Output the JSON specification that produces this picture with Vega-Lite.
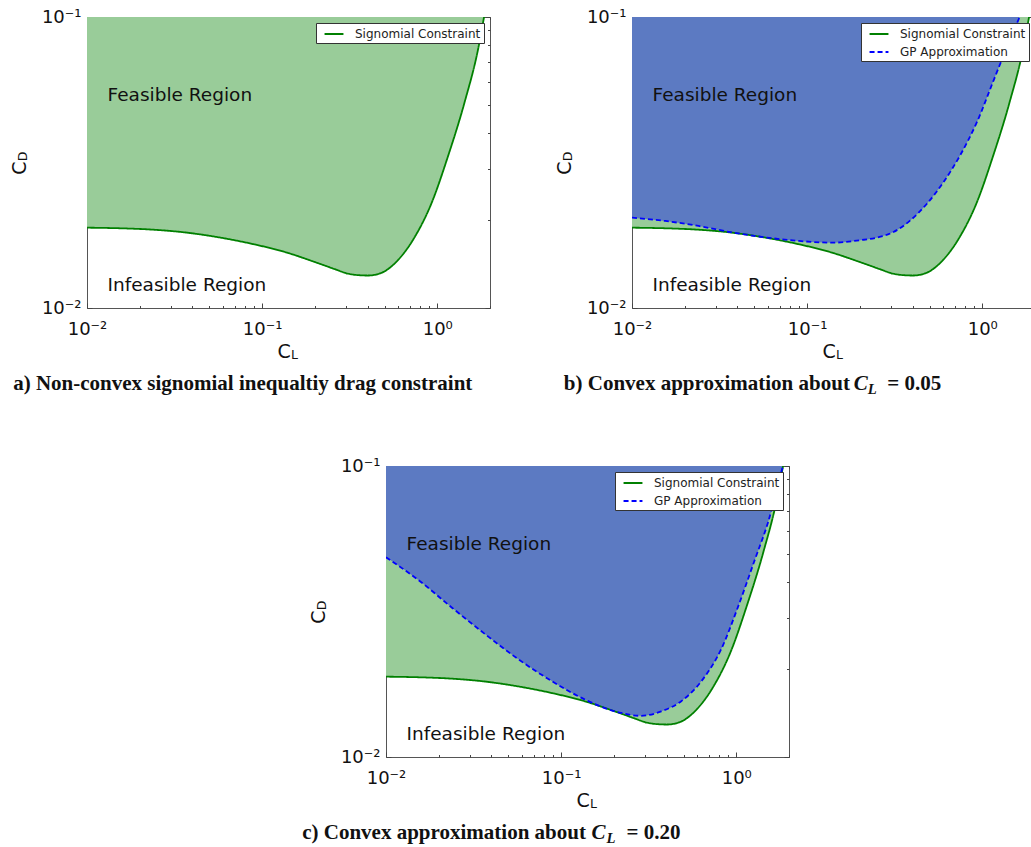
{
  "$schema": "https://vega.github.io/schema/vega-lite/v6.json",
  "padding": {"left": 9, "top": 7, "right": 0, "bottom": 0},
  "datasets": {
    "sig": [
      {"CL": 0.01, "CD": 0.01888, "series": "Signomial Constraint"},
      {"CL": 0.0155, "CD": 0.01879, "series": "Signomial Constraint"},
      {"CL": 0.024, "CD": 0.01858, "series": "Signomial Constraint"},
      {"CL": 0.0373, "CD": 0.01815, "series": "Signomial Constraint"},
      {"CL": 0.0578, "CD": 0.01745, "series": "Signomial Constraint"},
      {"CL": 0.0897, "CD": 0.01656, "series": "Signomial Constraint"},
      {"CL": 0.139, "CD": 0.01549, "series": "Signomial Constraint"},
      {"CL": 0.199, "CD": 0.0144, "series": "Signomial Constraint"},
      {"CL": 0.26, "CD": 0.0136, "series": "Signomial Constraint"},
      {"CL": 0.309, "CD": 0.01312, "series": "Signomial Constraint"},
      {"CL": 0.36, "CD": 0.01296, "series": "Signomial Constraint"},
      {"CL": 0.402, "CD": 0.01293, "series": "Signomial Constraint"},
      {"CL": 0.479, "CD": 0.0132, "series": "Signomial Constraint"},
      {"CL": 0.596, "CD": 0.0146, "series": "Signomial Constraint"},
      {"CL": 0.742, "CD": 0.0175, "series": "Signomial Constraint"},
      {"CL": 0.924, "CD": 0.0228, "series": "Signomial Constraint"},
      {"CL": 1.151, "CD": 0.0332, "series": "Signomial Constraint"},
      {"CL": 1.433, "CD": 0.051, "series": "Signomial Constraint"},
      {"CL": 1.71, "CD": 0.0775, "series": "Signomial Constraint"},
      {"CL": 1.85, "CD": 0.1, "series": "Signomial Constraint"},
      {"CL": 2.0, "CD": 0.128, "series": "Signomial Constraint"}
    ],
    "gp05": [
      {"CL": 0.01, "CD": 0.02043, "series": "GP Approximation"},
      {"CL": 0.0155, "CD": 0.01991, "series": "GP Approximation"},
      {"CL": 0.024, "CD": 0.01914, "series": "GP Approximation"},
      {"CL": 0.0373, "CD": 0.01818, "series": "GP Approximation"},
      {"CL": 0.0578, "CD": 0.01748, "series": "GP Approximation"},
      {"CL": 0.0897, "CD": 0.017, "series": "GP Approximation"},
      {"CL": 0.139, "CD": 0.01677, "series": "GP Approximation"},
      {"CL": 0.201, "CD": 0.0171, "series": "GP Approximation"},
      {"CL": 0.25, "CD": 0.01745, "series": "GP Approximation"},
      {"CL": 0.311, "CD": 0.01824, "series": "GP Approximation"},
      {"CL": 0.388, "CD": 0.02, "series": "GP Approximation"},
      {"CL": 0.483, "CD": 0.02282, "series": "GP Approximation"},
      {"CL": 0.601, "CD": 0.0271, "series": "GP Approximation"},
      {"CL": 0.748, "CD": 0.0335, "series": "GP Approximation"},
      {"CL": 0.933, "CD": 0.04357, "series": "GP Approximation"},
      {"CL": 1.161, "CD": 0.0606, "series": "GP Approximation"},
      {"CL": 1.325, "CD": 0.0739, "series": "GP Approximation"},
      {"CL": 1.633, "CD": 0.1, "series": "GP Approximation"},
      {"CL": 2.0, "CD": 0.138, "series": "GP Approximation"}
    ],
    "gp20": [
      {"CL": 0.01, "CD": 0.04855, "series": "GP Approximation"},
      {"CL": 0.0155, "CD": 0.04034, "series": "GP Approximation"},
      {"CL": 0.024, "CD": 0.03246, "series": "GP Approximation"},
      {"CL": 0.0373, "CD": 0.02627, "series": "GP Approximation"},
      {"CL": 0.0578, "CD": 0.02154, "series": "GP Approximation"},
      {"CL": 0.0897, "CD": 0.01814, "series": "GP Approximation"},
      {"CL": 0.139, "CD": 0.01568, "series": "GP Approximation"},
      {"CL": 0.215, "CD": 0.01422, "series": "GP Approximation"},
      {"CL": 0.286, "CD": 0.01385, "series": "GP Approximation"},
      {"CL": 0.373, "CD": 0.01435, "series": "GP Approximation"},
      {"CL": 0.485, "CD": 0.01555, "series": "GP Approximation"},
      {"CL": 0.631, "CD": 0.0182, "series": "GP Approximation"},
      {"CL": 0.821, "CD": 0.0235, "series": "GP Approximation"},
      {"CL": 1.023, "CD": 0.0328, "series": "GP Approximation"},
      {"CL": 1.274, "CD": 0.0475, "series": "GP Approximation"},
      {"CL": 1.518, "CD": 0.064, "series": "GP Approximation"},
      {"CL": 1.85, "CD": 0.1, "series": "GP Approximation"},
      {"CL": 2.0, "CD": 0.115, "series": "GP Approximation"}
    ],
    "labels": [
      {"CL": 0.0131, "CD": 0.0514, "text": "Feasible Region"},
      {"CL": 0.0131, "CD": 0.01144, "text": "Infeasible Region"}
    ]
  },
  "resolve": {"scale": {"color": "independent", "strokeDash": "independent"}},
  "vconcat": [
    {
      "spacing": 63,
      "resolve": {"scale": {"color": "independent", "strokeDash": "independent"}},
      "hconcat": [
        {
          "width": 403, "height": 291,
          "view": {"stroke": "#555", "strokeWidth": 1},
          "resolve": {"axis": {"x": "independent", "y": "independent"}},
          "layer": [
            {
              "data": {"name": "sig"},
              "mark": {"type": "area", "color": "#99CC99", "opacity": 1, "interpolate": "monotone", "clip": true},
              "encoding": {
                "x": {"field": "CL", "type": "quantitative", "scale": {"type": "log", "domain": [0.01, 2], "nice": false},
                  "axis": {"orient": "bottom", "values": [0.01,0.02,0.03,0.04,0.05,0.06,0.07,0.08,0.09,0.1,0.2,0.3,0.4,0.5,0.6,0.7,0.8,0.9,1,2],
                    "labelExpr": "datum.value == 0.01 ? '10⁻²' : datum.value == 0.1 ? '10⁻¹' : datum.value == 1 ? '10⁰' : ''",
                    "tickSize": {"condition": {"test": "datum.value == 0.01 || datum.value == 0.1 || datum.value == 1", "value": -5}, "value": -2.5},
                    "labelPadding": 17, "title": "C", "titleFontSize": 19, "titleX": 190, "titleY": 49, "titleAlign": "left", "titleBaseline": "alphabetic"}},
                "y": {"field": "CD", "type": "quantitative", "scale": {"type": "log", "domain": [0.01, 0.1], "nice": false},
                  "axis": {"orient": "left", "values": [0.01,0.02,0.03,0.04,0.05,0.06,0.07,0.08,0.09,0.1],
                    "labelExpr": "datum.value == 0.01 ? '10⁻²' : datum.value == 0.1 ? '10⁻¹' : ''",
                    "tickSize": {"condition": {"test": "datum.value == 0.01 || datum.value == 0.1", "value": -5}, "value": -2.5},
                    "labelPadding": 11, "title": "C", "titleFontSize": 19, "titleAngle": -90, "titleX": -62, "titleY": 150.5, "titleAlign": "center", "titleBaseline": "alphabetic"}},
                "y2": {"datum": 0.1}
              }
            },
            {
              "data": {"name": "sig"},
              "mark": {"type": "area", "color": "#99CC99", "opacity": 1, "interpolate": "monotone", "clip": true},
              "encoding": {
                "x": {"field": "CL", "type": "quantitative", "scale": {"type": "log", "domain": [0.01, 2], "nice": false},
                  "axis": {"orient": "bottom", "labels": false, "ticks": false, "title": "a) Non-convex signomial inequaltiy drag constraint", "titleFont": "Liberation Serif", "titleFontSize": 21, "titleFontWeight": "bold", "titleX": -74.3, "titleY": 81, "titleAlign": "left", "titleBaseline": "alphabetic"}},
                "y": {"field": "CD", "type": "quantitative", "scale": {"type": "log", "domain": [0.01, 0.1], "nice": false}, "axis": null},
                "y2": {"datum": 0.1}
              }
            },
            {
              "data": {"name": "sig"},
              "mark": {"type": "line", "interpolate": "monotone", "clip": true, "strokeWidth": 1.8},
              "encoding": {
                "x": {"field": "CL", "type": "quantitative", "scale": {"type": "log", "domain": [0.01, 2], "nice": false},
                  "axis": {"orient": "top", "values": [0.01,0.02,0.03,0.04,0.05,0.06,0.07,0.08,0.09,0.1,0.2,0.3,0.4,0.5,0.6,0.7,0.8,0.9,1,2], "labels": false, "title": null,
                    "tickSize": {"condition": {"test": "datum.value == 0.01 || datum.value == 0.1 || datum.value == 1", "value": -5}, "value": -2.5}}},
                "y": {"field": "CD", "type": "quantitative", "scale": {"type": "log", "domain": [0.01, 0.1], "nice": false},
                  "axis": {"orient": "right", "values": [0.01,0.02,0.03,0.04,0.05,0.06,0.07,0.08,0.09,0.1], "labels": false, "title": null,
                    "tickSize": {"condition": {"test": "datum.value == 0.01 || datum.value == 0.1", "value": -5}, "value": -2.5}}},
                "color": {"field": "series", "type": "nominal", "scale": {"domain": ["Signomial Constraint"], "range": ["#008000"]}, "legend": {"title": null, "orient": "top-right"}},
                "strokeDash": {"field": "series", "type": "nominal", "scale": {"domain": ["Signomial Constraint"], "range": [[1, 0]]}, "legend": {"title": null, "orient": "top-right"}}
              }
            },
            {
              "data": {"name": "labels"},
              "mark": {"type": "text", "align": "left", "baseline": "alphabetic", "font": "DejaVu Sans", "fontSize": 18.5, "color": "#111"},
              "encoding": {
                "x": {"field": "CL", "type": "quantitative", "scale": {"type": "log", "domain": [0.01, 2], "nice": false},
                  "axis": {"orient": "bottom", "labels": false, "ticks": false, "title": "L", "titleFontSize": 12.5, "titleX": 203.5, "titleY": 50.5, "titleAlign": "left", "titleBaseline": "alphabetic"}},
                "y": {"field": "CD", "type": "quantitative", "scale": {"type": "log", "domain": [0.01, 0.1], "nice": false},
                  "axis": {"orient": "left", "labels": false, "ticks": false, "title": "D", "titleFontSize": 12.5, "titleAngle": -90, "titleX": -60.5, "titleY": 139, "titleAlign": "center", "titleBaseline": "alphabetic"}},
                "text": {"field": "text", "type": "nominal"}
              }
            }
          ]
        },
        {
          "width": 403, "height": 291,
          "view": {"stroke": "#555", "strokeWidth": 1},
          "resolve": {"axis": {"x": "independent", "y": "independent"}},
          "layer": [
            {
              "data": {"name": "sig"},
              "mark": {"type": "area", "color": "#99CC99", "opacity": 1, "interpolate": "monotone", "clip": true},
              "encoding": {
                "x": {"field": "CL", "type": "quantitative", "scale": {"type": "log", "domain": [0.01, 2], "nice": false},
                  "axis": {"orient": "bottom", "values": [0.01,0.02,0.03,0.04,0.05,0.06,0.07,0.08,0.09,0.1,0.2,0.3,0.4,0.5,0.6,0.7,0.8,0.9,1,2],
                    "labelExpr": "datum.value == 0.01 ? '10⁻²' : datum.value == 0.1 ? '10⁻¹' : datum.value == 1 ? '10⁰' : ''",
                    "tickSize": {"condition": {"test": "datum.value == 0.01 || datum.value == 0.1 || datum.value == 1", "value": -5}, "value": -2.5},
                    "labelPadding": 17, "title": "C", "titleFontSize": 19, "titleX": 190, "titleY": 49, "titleAlign": "left", "titleBaseline": "alphabetic"}},
                "y": {"field": "CD", "type": "quantitative", "scale": {"type": "log", "domain": [0.01, 0.1], "nice": false},
                  "axis": {"orient": "left", "values": [0.01,0.02,0.03,0.04,0.05,0.06,0.07,0.08,0.09,0.1],
                    "labelExpr": "datum.value == 0.01 ? '10⁻²' : datum.value == 0.1 ? '10⁻¹' : ''",
                    "tickSize": {"condition": {"test": "datum.value == 0.01 || datum.value == 0.1", "value": -5}, "value": -2.5},
                    "labelPadding": 11, "title": "C", "titleFontSize": 19, "titleAngle": -90, "titleX": -62, "titleY": 150.5, "titleAlign": "center", "titleBaseline": "alphabetic"}},
                "y2": {"datum": 0.1}
              }
            },
            {
              "data": {"name": "gp05"},
              "mark": {"type": "area", "color": "#5C7AC2", "opacity": 1, "interpolate": "monotone", "clip": true},
              "encoding": {
                "x": {"field": "CL", "type": "quantitative", "scale": {"type": "log", "domain": [0.01, 2], "nice": false},
                  "axis": {"orient": "bottom", "labels": false, "ticks": false, "title": "b) Convex approximation about", "titleFont": "Liberation Serif", "titleFontSize": 21, "titleFontWeight": "bold", "titleX": -68.7, "titleY": 81, "titleAlign": "left", "titleBaseline": "alphabetic"}},
                "y": {"field": "CD", "type": "quantitative", "scale": {"type": "log", "domain": [0.01, 0.1], "nice": false},
                  "axis": {"orient": "left", "labels": false, "ticks": false, "title": "C", "titleFont": "Liberation Serif", "titleFontSize": 21, "titleFontWeight": "bold", "titleFontStyle": "italic", "titleAngle": 0, "titleX": 221.3, "titleY": 372, "titleAlign": "left", "titleBaseline": "alphabetic"}},
                "y2": {"datum": 0.1}
              }
            },
            {
              "data": {"name": "sig"},
              "mark": {"type": "line", "interpolate": "monotone", "clip": true, "strokeWidth": 1.8},
              "encoding": {
                "x": {"field": "CL", "type": "quantitative", "scale": {"type": "log", "domain": [0.01, 2], "nice": false},
                  "axis": {"orient": "top", "values": [0.01,0.02,0.03,0.04,0.05,0.06,0.07,0.08,0.09,0.1,0.2,0.3,0.4,0.5,0.6,0.7,0.8,0.9,1,2], "labels": false, "title": null,
                    "tickSize": {"condition": {"test": "datum.value == 0.01 || datum.value == 0.1 || datum.value == 1", "value": -5}, "value": -2.5}}},
                "y": {"field": "CD", "type": "quantitative", "scale": {"type": "log", "domain": [0.01, 0.1], "nice": false},
                  "axis": {"orient": "right", "values": [0.01,0.02,0.03,0.04,0.05,0.06,0.07,0.08,0.09,0.1], "labels": false, "title": null,
                    "tickSize": {"condition": {"test": "datum.value == 0.01 || datum.value == 0.1", "value": -5}, "value": -2.5}}},
                "color": {"field": "series", "type": "nominal", "scale": {"domain": ["Signomial Constraint", "GP Approximation"], "range": ["#008000", "#0000FF"]}, "legend": {"title": null, "orient": "top-right"}},
                "strokeDash": {"field": "series", "type": "nominal", "scale": {"domain": ["Signomial Constraint", "GP Approximation"], "range": [[1, 0], [5, 3]]}, "legend": {"title": null, "orient": "top-right"}}
              }
            },
            {
              "data": {"name": "gp05"},
              "mark": {"type": "line", "interpolate": "monotone", "clip": true, "strokeWidth": 1.8},
              "encoding": {
                "x": {"field": "CL", "type": "quantitative", "scale": {"type": "log", "domain": [0.01, 2], "nice": false},
                  "axis": {"orient": "bottom", "labels": false, "ticks": false, "title": "= 0.05", "titleFont": "Liberation Serif", "titleFontSize": 21, "titleFontWeight": "bold", "titleX": 254.7, "titleY": 81, "titleAlign": "left", "titleBaseline": "alphabetic"}},
                "y": {"field": "CD", "type": "quantitative", "scale": {"type": "log", "domain": [0.01, 0.1], "nice": false},
                  "axis": {"orient": "left", "labels": false, "ticks": false, "title": "L", "titleFont": "Liberation Serif", "titleFontSize": 14.7, "titleFontWeight": "bold", "titleFontStyle": "italic", "titleAngle": 0, "titleX": 235.3, "titleY": 376, "titleAlign": "left", "titleBaseline": "alphabetic"}},
                "color": {"field": "series", "type": "nominal", "scale": {"domain": ["Signomial Constraint", "GP Approximation"], "range": ["#008000", "#0000FF"]}, "legend": {"title": null, "orient": "top-right"}},
                "strokeDash": {"field": "series", "type": "nominal", "scale": {"domain": ["Signomial Constraint", "GP Approximation"], "range": [[1, 0], [5, 3]]}, "legend": {"title": null, "orient": "top-right"}}
              }
            },
            {
              "data": {"name": "labels"},
              "mark": {"type": "text", "align": "left", "baseline": "alphabetic", "font": "DejaVu Sans", "fontSize": 18.5, "color": "#111"},
              "encoding": {
                "x": {"field": "CL", "type": "quantitative", "scale": {"type": "log", "domain": [0.01, 2], "nice": false},
                  "axis": {"orient": "bottom", "labels": false, "ticks": false, "title": "L", "titleFontSize": 12.5, "titleX": 203.5, "titleY": 50.5, "titleAlign": "left", "titleBaseline": "alphabetic"}},
                "y": {"field": "CD", "type": "quantitative", "scale": {"type": "log", "domain": [0.01, 0.1], "nice": false},
                  "axis": {"orient": "left", "labels": false, "ticks": false, "title": "D", "titleFontSize": 12.5, "titleAngle": -90, "titleX": -60.5, "titleY": 139, "titleAlign": "center", "titleBaseline": "alphabetic"}},
                "text": {"field": "text", "type": "nominal"}
              }
            }
          ]
        }
      ]
    },
    {
      "spacing": 0,
      "resolve": {"scale": {"color": "independent", "strokeDash": "independent"}},
      "hconcat": [
        {"width": 214, "height": 5, "data": {"values": [{"v": 1}]}, "mark": {"type": "point", "opacity": 0}},
        {
          "width": 403, "height": 291,
          "view": {"stroke": "#555", "strokeWidth": 1},
          "resolve": {"axis": {"x": "independent", "y": "independent"}},
          "layer": [
            {
              "data": {"name": "sig"},
              "mark": {"type": "area", "color": "#99CC99", "opacity": 1, "interpolate": "monotone", "clip": true},
              "encoding": {
                "x": {"field": "CL", "type": "quantitative", "scale": {"type": "log", "domain": [0.01, 2], "nice": false},
                  "axis": {"orient": "bottom", "values": [0.01,0.02,0.03,0.04,0.05,0.06,0.07,0.08,0.09,0.1,0.2,0.3,0.4,0.5,0.6,0.7,0.8,0.9,1,2],
                    "labelExpr": "datum.value == 0.01 ? '10⁻²' : datum.value == 0.1 ? '10⁻¹' : datum.value == 1 ? '10⁰' : ''",
                    "tickSize": {"condition": {"test": "datum.value == 0.01 || datum.value == 0.1 || datum.value == 1", "value": -5}, "value": -2.5},
                    "labelPadding": 17, "title": "C", "titleFontSize": 19, "titleX": 190, "titleY": 49, "titleAlign": "left", "titleBaseline": "alphabetic"}},
                "y": {"field": "CD", "type": "quantitative", "scale": {"type": "log", "domain": [0.01, 0.1], "nice": false},
                  "axis": {"orient": "left", "values": [0.01,0.02,0.03,0.04,0.05,0.06,0.07,0.08,0.09,0.1],
                    "labelExpr": "datum.value == 0.01 ? '10⁻²' : datum.value == 0.1 ? '10⁻¹' : ''",
                    "tickSize": {"condition": {"test": "datum.value == 0.01 || datum.value == 0.1", "value": -5}, "value": -2.5},
                    "labelPadding": 11, "title": "C", "titleFontSize": 19, "titleAngle": -90, "titleX": -62, "titleY": 150.5, "titleAlign": "center", "titleBaseline": "alphabetic"}},
                "y2": {"datum": 0.1}
              }
            },
            {
              "data": {"name": "gp20"},
              "mark": {"type": "area", "color": "#5C7AC2", "opacity": 1, "interpolate": "monotone", "clip": true},
              "encoding": {
                "x": {"field": "CL", "type": "quantitative", "scale": {"type": "log", "domain": [0.01, 2], "nice": false},
                  "axis": {"orient": "bottom", "labels": false, "ticks": false, "title": "c) Convex approximation about", "titleFont": "Liberation Serif", "titleFontSize": 21, "titleFontWeight": "bold", "titleX": -84.3, "titleY": 81, "titleAlign": "left", "titleBaseline": "alphabetic"}},
                "y": {"field": "CD", "type": "quantitative", "scale": {"type": "log", "domain": [0.01, 0.1], "nice": false},
                  "axis": {"orient": "left", "labels": false, "ticks": false, "title": "C", "titleFont": "Liberation Serif", "titleFontSize": 21, "titleFontWeight": "bold", "titleFontStyle": "italic", "titleAngle": 0, "titleX": 205, "titleY": 372, "titleAlign": "left", "titleBaseline": "alphabetic"}},
                "y2": {"datum": 0.1}
              }
            },
            {
              "data": {"name": "sig"},
              "mark": {"type": "line", "interpolate": "monotone", "clip": true, "strokeWidth": 1.8},
              "encoding": {
                "x": {"field": "CL", "type": "quantitative", "scale": {"type": "log", "domain": [0.01, 2], "nice": false},
                  "axis": {"orient": "top", "values": [0.01,0.02,0.03,0.04,0.05,0.06,0.07,0.08,0.09,0.1,0.2,0.3,0.4,0.5,0.6,0.7,0.8,0.9,1,2], "labels": false, "title": null,
                    "tickSize": {"condition": {"test": "datum.value == 0.01 || datum.value == 0.1 || datum.value == 1", "value": -5}, "value": -2.5}}},
                "y": {"field": "CD", "type": "quantitative", "scale": {"type": "log", "domain": [0.01, 0.1], "nice": false},
                  "axis": {"orient": "right", "values": [0.01,0.02,0.03,0.04,0.05,0.06,0.07,0.08,0.09,0.1], "labels": false, "title": null,
                    "tickSize": {"condition": {"test": "datum.value == 0.01 || datum.value == 0.1", "value": -5}, "value": -2.5}}},
                "color": {"field": "series", "type": "nominal", "scale": {"domain": ["Signomial Constraint", "GP Approximation"], "range": ["#008000", "#0000FF"]}, "legend": {"title": null, "orient": "top-right"}},
                "strokeDash": {"field": "series", "type": "nominal", "scale": {"domain": ["Signomial Constraint", "GP Approximation"], "range": [[1, 0], [5, 3]]}, "legend": {"title": null, "orient": "top-right"}}
              }
            },
            {
              "data": {"name": "gp20"},
              "mark": {"type": "line", "interpolate": "monotone", "clip": true, "strokeWidth": 1.8},
              "encoding": {
                "x": {"field": "CL", "type": "quantitative", "scale": {"type": "log", "domain": [0.01, 2], "nice": false},
                  "axis": {"orient": "bottom", "labels": false, "ticks": false, "title": "= 0.20", "titleFont": "Liberation Serif", "titleFontSize": 21, "titleFontWeight": "bold", "titleX": 240, "titleY": 81, "titleAlign": "left", "titleBaseline": "alphabetic"}},
                "y": {"field": "CD", "type": "quantitative", "scale": {"type": "log", "domain": [0.01, 0.1], "nice": false},
                  "axis": {"orient": "left", "labels": false, "ticks": false, "title": "L", "titleFont": "Liberation Serif", "titleFontSize": 14.7, "titleFontWeight": "bold", "titleFontStyle": "italic", "titleAngle": 0, "titleX": 220, "titleY": 376, "titleAlign": "left", "titleBaseline": "alphabetic"}},
                "color": {"field": "series", "type": "nominal", "scale": {"domain": ["Signomial Constraint", "GP Approximation"], "range": ["#008000", "#0000FF"]}, "legend": {"title": null, "orient": "top-right"}},
                "strokeDash": {"field": "series", "type": "nominal", "scale": {"domain": ["Signomial Constraint", "GP Approximation"], "range": [[1, 0], [5, 3]]}, "legend": {"title": null, "orient": "top-right"}}
              }
            },
            {
              "data": {"name": "labels"},
              "mark": {"type": "text", "align": "left", "baseline": "alphabetic", "font": "DejaVu Sans", "fontSize": 18.5, "color": "#111"},
              "encoding": {
                "x": {"field": "CL", "type": "quantitative", "scale": {"type": "log", "domain": [0.01, 2], "nice": false},
                  "axis": {"orient": "bottom", "labels": false, "ticks": false, "title": "L", "titleFontSize": 12.5, "titleX": 203.5, "titleY": 50.5, "titleAlign": "left", "titleBaseline": "alphabetic"}},
                "y": {"field": "CD", "type": "quantitative", "scale": {"type": "log", "domain": [0.01, 0.1], "nice": false},
                  "axis": {"orient": "left", "labels": false, "ticks": false, "title": "D", "titleFontSize": 12.5, "titleAngle": -90, "titleX": -60.5, "titleY": 139, "titleAlign": "center", "titleBaseline": "alphabetic"}},
                "text": {"field": "text", "type": "nominal"}
              }
            }
          ]
        }
      ]
    }
  ],
  "spacing": 59,
  "config": {
    "view": {"stroke": null},
    "axis": {"grid": false, "domain": false, "labelFont": "DejaVu Sans", "labelFontSize": 18, "labelColor": "#111", "titleFont": "DejaVu Sans", "titleColor": "#111", "titleFontWeight": "normal", "tickColor": "#444", "tickWidth": 1, "labelFlush": false, "labelOverlap": false, "labelBound": false, "titleLimit": 1000},
    "legend": {"orient": "top-right", "offset": 6, "padding": 3, "fillColor": "white", "strokeColor": "#333", "cornerRadius": 0, "symbolType": "M-1.35,0H1.35", "symbolSize": 196, "symbolStrokeWidth": 2, "symbolOffset": 7, "labelFont": "DejaVu Sans", "labelFontSize": 12, "labelColor": "#222", "labelOffset": 13, "rowPadding": 4, "labelLimit": 400}
  }
}
